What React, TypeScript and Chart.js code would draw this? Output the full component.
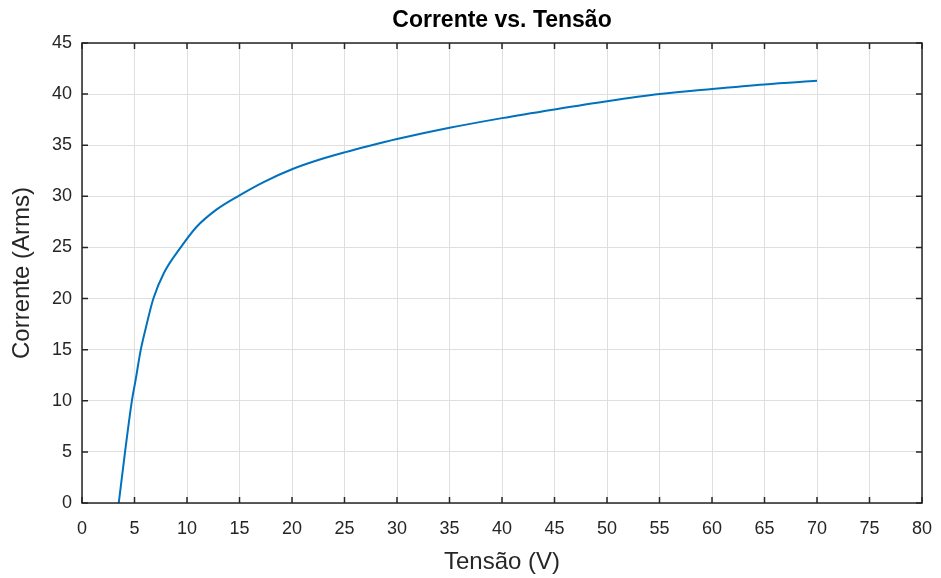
import React, { useEffect, useRef } from "react";
import { Chart, registerables } from "chart.js";

Chart.register(...registerables);

const voltage = [3.5, 4.1, 4.75, 5.1, 5.6, 6.07, 6.8, 7.8, 9.4, 10.9, 12.8, 15, 17.3, 20, 22.5, 25, 27.4, 30, 35, 40, 45, 50, 55, 60, 65, 70];
const current = [0, 5, 10, 12, 15, 17.1, 20, 22.5, 25, 27, 28.7, 30.1, 31.4, 32.65, 33.55, 34.3, 34.95, 35.6, 36.7, 37.65, 38.5, 39.3, 40.0, 40.5, 40.95, 41.3];
const xTicks = [0, 5, 10, 15, 20, 25, 30, 35, 40, 45, 50, 55, 60, 65, 70, 75, 80];
const yTicks = [0, 5, 10, 15, 20, 25, 30, 35, 40, 45];

const FONT = "'Liberation Sans', Arial, Helvetica, sans-serif";
const TEXT = "#262626";

const boxPlugin = {
  id: "matlabBox",
  afterDatasetsDraw(chart: any) {
    const { ctx, chartArea: a, scales } = chart;
    const tl = 6;
    ctx.save();
    ctx.strokeStyle = TEXT;
    ctx.lineWidth = 1.5;
    ctx.beginPath();
    xTicks.forEach((v) => {
      const px = scales.x.getPixelForValue(v);
      ctx.moveTo(px, a.bottom);
      ctx.lineTo(px, a.bottom - tl);
      ctx.moveTo(px, a.top);
      ctx.lineTo(px, a.top + tl);
    });
    yTicks.forEach((v) => {
      const py = scales.y.getPixelForValue(v);
      ctx.moveTo(a.left, py);
      ctx.lineTo(a.left + tl, py);
      ctx.moveTo(a.right, py);
      ctx.lineTo(a.right - tl, py);
    });
    ctx.stroke();
    ctx.strokeRect(a.left, a.top, a.right - a.left, a.bottom - a.top);
    ctx.restore();
  },
};

export default function App() {
  const ref = useRef<HTMLCanvasElement>(null);
  useEffect(() => {
    document.body.style.margin = "0";
    const chart = new Chart(ref.current!, {
      type: "scatter",
      data: {
        datasets: [
          {
            data: voltage.map((v, i) => ({ x: v, y: current[i] })),
            showLine: true,
            borderColor: "#0072BD",
            borderWidth: 2,
            pointRadius: 0,
            cubicInterpolationMode: "monotone",
          },
        ],
      },
      options: {
        responsive: false,
        animation: false,
        layout: { padding: { left: 0, right: 19, top: 0, bottom: 0 } },
        plugins: {
          legend: { display: false },
          tooltip: { enabled: false },
          title: {
            display: true,
            fullSize: false,
            text: "Corrente vs. Tensão",
            color: "#000",
            font: { family: FONT, size: 23, weight: "bold" },
            padding: { top: 7.2, bottom: 8.2 },
          },
        },
        scales: {
          x: {
            type: "linear",
            min: 0,
            max: 80,
            afterFit: (s: any) => { s.height = 75; s.paddingLeft = 0; s.paddingRight = 0; },
            afterBuildTicks: (s: any) => { s.ticks = xTicks.map((v) => ({ value: v })); },
            ticks: { color: TEXT, font: { family: FONT, size: 18 }, padding: 15, maxRotation: 0, autoSkip: false },
            grid: { color: "#dfdfdf", drawTicks: false, lineWidth: 1 },
            border: { display: false },
            title: {
              display: true,
              text: "Tensão (V)",
              color: TEXT,
              font: { family: FONT, size: 24 },
              padding: { top: 0, bottom: 1.6 },
            },
          },
          y: {
            type: "linear",
            min: 0,
            max: 45,
            afterFit: (s: any) => { s.width = 82; s.paddingTop = 0; s.paddingBottom = 0; },
            afterBuildTicks: (s: any) => { s.ticks = yTicks.map((v) => ({ value: v })); },
            ticks: { color: TEXT, font: { family: FONT, size: 18 }, padding: 10, autoSkip: false },
            grid: { color: "#dfdfdf", drawTicks: false, lineWidth: 1 },
            border: { display: false },
            title: {
              display: true,
              text: "Corrente (Arms)",
              color: TEXT,
              font: { family: FONT, size: 24 },
              padding: { top: 7.6, bottom: 0 },
            },
          },
        },
      },
      plugins: [boxPlugin],
    } as any);
    return () => chart.destroy();
  }, []);
  return (
    <div style={{ width: 941, height: 578, background: "#fff" }}>
      <canvas ref={ref} width={941} height={578} />
    </div>
  );
}
